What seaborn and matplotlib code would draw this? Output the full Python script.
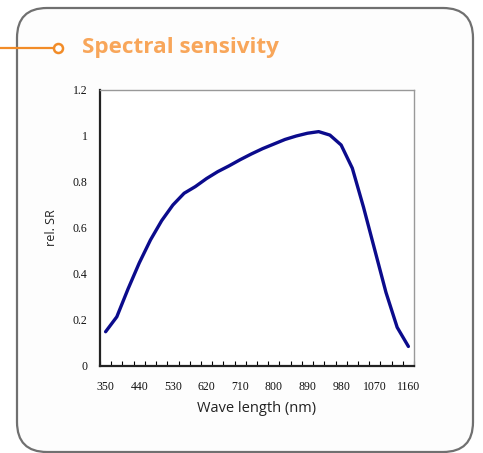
import numpy as np
import pandas as pd
import seaborn as sns
import matplotlib.pyplot as plt
from matplotlib.patches import FancyBboxPatch
from matplotlib.lines import Line2D
from matplotlib.transforms import IdentityTransform

# spectral response (30 nm steps)
wavelength = [350, 380, 410, 440, 470, 500, 530, 560, 590, 620,
              650, 680, 710, 740, 770, 800, 830, 860, 890, 920,
              950, 980, 1010, 1040, 1070, 1100, 1130, 1160]
rel_sr = [0.149, 0.214, 0.335, 0.448, 0.548, 0.632, 0.70, 0.751, 0.78, 0.815,
          0.845, 0.87, 0.897, 0.922, 0.945, 0.965, 0.985, 1.0, 1.012, 1.019,
          1.004, 0.961, 0.86, 0.69, 0.505, 0.32, 0.168, 0.085]

x_ticks = [350, 440, 530, 620, 710, 800, 890, 980, 1070, 1160]
y_ticks = [0, 0.2, 0.4, 0.6, 0.8, 1.0, 1.2]
y_labels = ["0", "0.2", "0.4", "0.6", "0.8", "1", "1.2"]

df = pd.DataFrame({"Wave length (nm)": wavelength, "rel. SR": rel_sr})

sns.set_style("white")
plt.rcParams['font.family'] = ['Open Sans', 'DejaVu Sans']

fig = plt.figure(figsize=(4.83, 4.53), dpi=100)
fig.patch.set_facecolor("white")

# rounded frame around the whole panel (pixel coords)
frame = FancyBboxPatch((17, 1), 456, 444, boxstyle="round,pad=0,rounding_size=30",
                       transform=IdentityTransform(), facecolor="#fdfdfd",
                       edgecolor="#707070", linewidth=1.6, zorder=-5)
fig.patches.append(frame)

# orange leader line + ring
fig.lines.append(Line2D([0, 54], [405, 405], transform=IdentityTransform(),
                        color="#f28c28", linewidth=1.6))
fig.lines.append(Line2D([58], [405], transform=IdentityTransform(),
                        marker="o", markersize=6.5, markerfacecolor="white",
                        markeredgecolor="#f28c28", markeredgewidth=1.8))
fig.text(82 / 483, 1 - 47 / 453, "Spectral sensivity", color="#f8a65a",
         fontsize=16.2, fontweight="bold", ha="left", va="center")

ax = fig.add_axes([100 / 483, 1 - 366 / 453, 314 / 483, 276 / 453])
ax.set_zorder(2)
ax.set_facecolor("white")
sns.lineplot(data=df, x="Wave length (nm)", y="rel. SR", ax=ax,
             color="#0b0b8c", linewidth=2.4)

ax.set_xlim(wavelength[0] - 15, wavelength[-1] + 15)
ax.set_ylim(0, 1.2)
ax.set_xticks(x_ticks)
ax.set_xticklabels([str(v) for v in x_ticks])
ax.set_xticks([w - 15 for w in wavelength] + [wavelength[-1] + 15], minor=True)
ax.set_yticks(y_ticks)
ax.set_yticklabels(y_labels)

for lab in ax.get_xticklabels() + ax.get_yticklabels():
    lab.set_fontfamily("Liberation Serif")
    lab.set_fontsize(8.5)
    lab.set_color("#111111")

ax.tick_params(axis="x", which="major", length=0, pad=11)
ax.tick_params(axis="x", which="minor", direction="in", length=3.5,
               width=0.8, color="black", bottom=True)
ax.tick_params(axis="y", length=0, pad=9)

for side in ["left", "bottom"]:
    ax.spines[side].set_color("#222222")
    ax.spines[side].set_linewidth(1.6)
for side in ["top", "right"]:
    ax.spines[side].set_color("#999999")
    ax.spines[side].set_linewidth(1.0)

ax.set_xlabel("Wave length (nm)", fontsize=10.5, color="#222222")
ax.set_ylabel("rel. SR", fontsize=9, color="#222222")
ax.xaxis.set_label_coords(0.5, -0.125)
ax.yaxis.set_label_coords(-0.135, 0.5)

fig.savefig("out.png", dpi=100)
